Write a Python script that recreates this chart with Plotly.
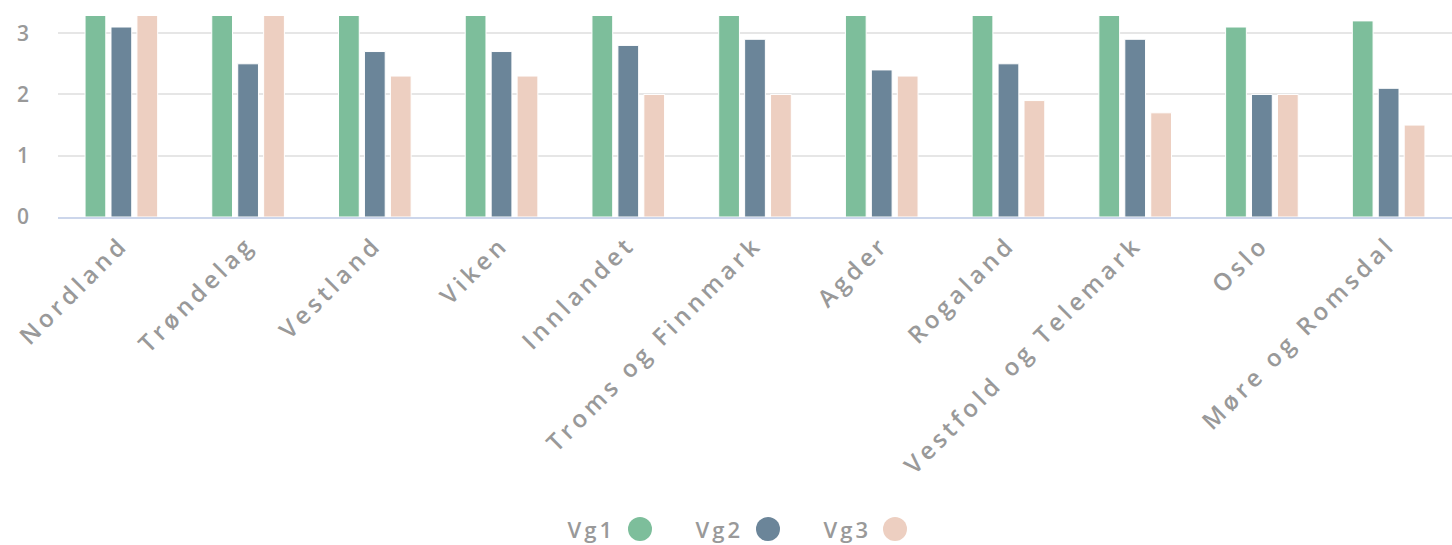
import plotly.graph_objects as go

categories = ["Nordland", "Trøndelag", "Vestland", "Viken", "Innlandet",
              "Troms og Finnmark", "Agder", "Rogaland", "Vestfold og Telemark",
              "Oslo", "Møre og Romsdal"]
vg1 = [3.6, 3.5, 3.5, 3.5, 3.4, 3.4, 3.4, 3.4, 3.3, 3.1, 3.2]
vg2 = [3.1, 2.5, 2.7, 2.7, 2.8, 2.9, 2.4, 2.5, 2.9, 2.0, 2.1]
vg3 = [3.4, 3.4, 2.3, 2.3, 2.0, 2.0, 2.3, 1.9, 1.7, 2.0, 1.5]
series_names = ["Vg1", "Vg2", "Vg3"]
colors = ["#7dbe9b", "#6b8599", "#edcfc1"]

FONT = "Open Sans"
GRAY = "#999999"

fig = go.Figure()
for name, vals, col in zip(series_names, [vg1, vg2, vg3], colors):
    fig.add_trace(go.Bar(
        x=categories, y=vals, name=name,
        marker=dict(color=col, line=dict(color="#ffffff", width=1)),
        showlegend=False,
    ))

L, R, T, B = 58, 0, 16, 328
W, H = 1452, 545
plot_w = W - L - R
plot_h = H - T - B

# custom legend: text followed by circle symbol
legend_text_right = [612, 740, 868]
legend_circle_x = [640, 768, 895]
legend_y = 529
for name, col, tx, cx in zip(series_names, colors, legend_text_right, legend_circle_x):
    fig.add_annotation(
        text=name, xref="paper", yref="paper",
        x=(tx - L) / plot_w, y=(T + plot_h - legend_y) / plot_h,
        xanchor="right", yanchor="middle", showarrow=False,
        font=dict(family=FONT, size=22, color=GRAY, weight=600),
    )
    px = (cx - L) / plot_w
    py = (T + plot_h - legend_y) / plot_h
    fig.add_shape(
        type="circle", xref="paper", yref="paper",
        xsizemode="pixel", ysizemode="pixel",
        xanchor=px, yanchor=py,
        x0=-12, x1=12, y0=-12, y1=12,
        fillcolor=col, line=dict(width=0),
    )

fig.update_layout(
    width=W, height=H,
    margin=dict(l=L, r=R, t=T, b=B, pad=0),
    paper_bgcolor="white", plot_bgcolor="white",
    barmode="group", bargap=0.386, bargroupgap=0.2,
    font=dict(family=FONT, color=GRAY),
)
fig.update_xaxes(
    tickangle=-45, tickfont=dict(family=FONT, size=24, color=GRAY, weight=600),
    showgrid=False, showline=True, linecolor="#ccd6eb", linewidth=2,
    ticks="", ticklabelstandoff=2,
)
fig.update_yaxes(
    range=[0, 3.28], dtick=1, tick0=0,
    showgrid=True, gridcolor="#e6e6e6", gridwidth=2,
    zeroline=False, showline=False,
    tickfont=dict(family=FONT, size=21, color=GRAY, weight=600),
    ticklabelstandoff=28,
)

post = """
document.body.style.margin = '0';
document.body.style.overflow = 'hidden';
document.querySelectorAll('g.xtick text').forEach(function(t){ t.style.letterSpacing = '4px'; });
document.querySelectorAll('g.annotation text').forEach(function(t){ t.style.letterSpacing = '3px'; });
"""
fig.write_html("out.html", post_script=post, config={"displayModeBar": False})
